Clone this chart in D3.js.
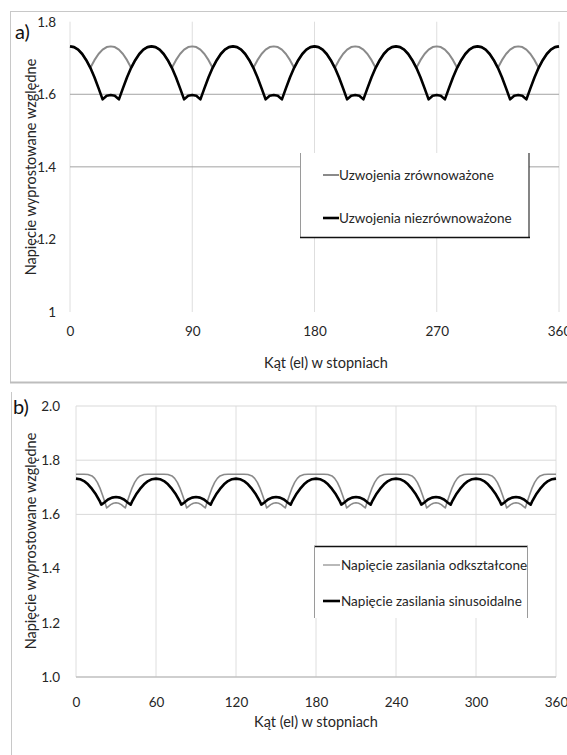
<!DOCTYPE html>
<html>
<head>
<meta charset="utf-8">
<script src="https://cdn.jsdelivr.net/npm/d3@7/dist/d3.min.js"></script>
<style>
  html, body { margin: 0; padding: 0; background: #fff; }
  text { font-family: Lato, "Open Sans", sans-serif; }
</style>
</head>
<body>
<script>
// ---------- DATA : chart a) ----------
const topAngles = [0,3,6,9,12,15,18,21,24,27,30,33,36,39,42,45,48,51,54,57,60,63,66,69,72,75,78,81,84,87,90,93,96,99,102,105,108,111,114,117,120,123,126,129,132,135,138,141,144,147,150,153,156,159,162,165,168,171,174,177,180,183,186,189,192,195,198,201,204,207,210,213,216,219,222,225,228,231,234,237,240,243,246,249,252,255,258,261,264,267,270,273,276,279,282,285,288,291,294,297,300,303,306,309,312,315,318,321,324,327,330,333,336,339,342,345,348,351,354,357,360];
const topBalanced = [
1.732,1.730,1.723,1.711,1.694,1.673,1.694,1.711,1.723,1.730,
1.732,1.730,1.723,1.711,1.694,1.673,1.694,1.711,1.723,1.730,
1.732,1.730,1.723,1.711,1.694,1.673,1.694,1.711,1.723,1.730,
1.732,1.730,1.723,1.711,1.694,1.673,1.694,1.711,1.723,1.730,
1.732,1.730,1.723,1.711,1.694,1.673,1.694,1.711,1.723,1.730,
1.732,1.730,1.723,1.711,1.694,1.673,1.694,1.711,1.723,1.730,
1.732,1.730,1.723,1.711,1.694,1.673,1.694,1.711,1.723,1.730,
1.732,1.730,1.723,1.711,1.694,1.673,1.694,1.711,1.723,1.730,
1.732,1.730,1.723,1.711,1.694,1.673,1.694,1.711,1.723,1.730,
1.732,1.730,1.723,1.711,1.694,1.673,1.694,1.711,1.723,1.730,
1.732,1.730,1.723,1.711,1.694,1.673,1.694,1.711,1.723,1.730,
1.732,1.730,1.723,1.711,1.694,1.673,1.694,1.711,1.723,1.730,
1.732];
const topUnbalanced = [
1.732,1.730,1.723,1.711,1.694,1.673,1.647,1.617,1.586,1.596,1.598,1.596,1.586,1.617,1.647,1.673,1.694,1.711,1.723,1.730,
1.732,1.730,1.723,1.711,1.694,1.673,1.647,1.617,1.586,1.596,1.598,1.596,1.586,1.617,1.647,1.673,1.694,1.711,1.723,1.730,
1.732,1.730,1.723,1.711,1.694,1.673,1.647,1.617,1.586,1.596,1.598,1.596,1.586,1.617,1.647,1.673,1.694,1.711,1.723,1.730,
1.732,1.730,1.723,1.711,1.694,1.673,1.647,1.617,1.586,1.596,1.598,1.596,1.586,1.617,1.647,1.673,1.694,1.711,1.723,1.730,
1.732,1.730,1.723,1.711,1.694,1.673,1.647,1.617,1.586,1.596,1.598,1.596,1.586,1.617,1.647,1.673,1.694,1.711,1.723,1.730,
1.732,1.730,1.723,1.711,1.694,1.673,1.647,1.617,1.586,1.596,1.598,1.596,1.586,1.617,1.647,1.673,1.694,1.711,1.723,1.730,
1.732];
const topXTicks = [0,90,180,270,360];
const topYTicks = [1,1.2,1.4,1.6,1.8];
const topYTickLabels = ["1","1.2","1.4","1.6","1.8"];
const topGridValues = [1.4,1.6];
const topSeriesNames = ["Uzwojenia zrównoważone","Uzwojenia niezrównoważone"];

// ---------- DATA : chart b) ----------
const bottomGrayAngles = [
0,3,6,9,12,14,16,18,20,22,23,24,26,28,30,32,34,36,37,38,40,42,44,46,48,51,54,57,
60,63,66,69,72,74,76,78,80,82,83,84,86,88,90,92,94,96,97,98,100,102,104,106,108,111,114,117,
120,123,126,129,132,134,136,138,140,142,143,144,146,148,150,152,154,156,157,158,160,162,164,166,168,171,174,177,
180,183,186,189,192,194,196,198,200,202,203,204,206,208,210,212,214,216,217,218,220,222,224,226,228,231,234,237,
240,243,246,249,252,254,256,258,260,262,263,264,266,268,270,272,274,276,277,278,280,282,284,286,288,291,294,297,
300,303,306,309,312,314,316,318,320,322,323,324,326,328,330,332,334,336,337,338,340,342,344,346,348,351,354,357,
360];
const bottomGrayValues = [
1.748,1.748,1.748,1.747,1.742,1.733,1.718,1.697,1.670,1.640,1.624,1.628,1.636,1.641,1.643,1.641,1.636,1.628,1.624,1.640,1.670,1.697,1.718,1.733,1.742,1.747,1.748,1.748,
1.748,1.748,1.748,1.747,1.742,1.733,1.718,1.697,1.670,1.640,1.624,1.628,1.636,1.641,1.643,1.641,1.636,1.628,1.624,1.640,1.670,1.697,1.718,1.733,1.742,1.747,1.748,1.748,
1.748,1.748,1.748,1.747,1.742,1.733,1.718,1.697,1.670,1.640,1.624,1.628,1.636,1.641,1.643,1.641,1.636,1.628,1.624,1.640,1.670,1.697,1.718,1.733,1.742,1.747,1.748,1.748,
1.748,1.748,1.748,1.747,1.742,1.733,1.718,1.697,1.670,1.640,1.624,1.628,1.636,1.641,1.643,1.641,1.636,1.628,1.624,1.640,1.670,1.697,1.718,1.733,1.742,1.747,1.748,1.748,
1.748,1.748,1.748,1.747,1.742,1.733,1.718,1.697,1.670,1.640,1.624,1.628,1.636,1.641,1.643,1.641,1.636,1.628,1.624,1.640,1.670,1.697,1.718,1.733,1.742,1.747,1.748,1.748,
1.748,1.748,1.748,1.747,1.742,1.733,1.718,1.697,1.670,1.640,1.624,1.628,1.636,1.641,1.643,1.641,1.636,1.628,1.624,1.640,1.670,1.697,1.718,1.733,1.742,1.747,1.748,1.748,
1.748];
const bottomBlackAngles = [
0,3,6,9,12,15,18,19,21,24,27,30,33,36,39,41,42,45,48,51,54,57,
60,63,66,69,72,75,78,79,81,84,87,90,93,96,99,101,102,105,108,111,114,117,
120,123,126,129,132,135,138,139,141,144,147,150,153,156,159,161,162,165,168,171,174,177,
180,183,186,189,192,195,198,199,201,204,207,210,213,216,219,221,222,225,228,231,234,237,
240,243,246,249,252,255,258,259,261,264,267,270,273,276,279,281,282,285,288,291,294,297,
300,303,306,309,312,315,318,319,321,324,327,330,333,336,339,341,342,345,348,351,354,357,
360];
const bottomBlackValues = [
1.732,1.730,1.723,1.711,1.694,1.673,1.647,1.636,1.643,1.655,1.662,1.664,1.662,1.655,1.643,1.636,1.647,1.673,1.694,1.711,1.723,1.730,
1.732,1.730,1.723,1.711,1.694,1.673,1.647,1.636,1.643,1.655,1.662,1.664,1.662,1.655,1.643,1.636,1.647,1.673,1.694,1.711,1.723,1.730,
1.732,1.730,1.723,1.711,1.694,1.673,1.647,1.636,1.643,1.655,1.662,1.664,1.662,1.655,1.643,1.636,1.647,1.673,1.694,1.711,1.723,1.730,
1.732,1.730,1.723,1.711,1.694,1.673,1.647,1.636,1.643,1.655,1.662,1.664,1.662,1.655,1.643,1.636,1.647,1.673,1.694,1.711,1.723,1.730,
1.732,1.730,1.723,1.711,1.694,1.673,1.647,1.636,1.643,1.655,1.662,1.664,1.662,1.655,1.643,1.636,1.647,1.673,1.694,1.711,1.723,1.730,
1.732,1.730,1.723,1.711,1.694,1.673,1.647,1.636,1.643,1.655,1.662,1.664,1.662,1.655,1.643,1.636,1.647,1.673,1.694,1.711,1.723,1.730,
1.732];
const bottomXTicks = [0,60,120,180,240,300,360];
const bottomYTicks = [1,1.2,1.4,1.6,1.8,2];
const bottomYTickLabels = ["1.0","1.2","1.4","1.6","1.8","2.0"];
const bottomGridValues = [1.6,1.8,2];
const bottomSeriesNames = ["Napięcie zasilania odkształcone","Napięcie zasilania sinusoidalne"];

const yTitle = "Napięcie wyprostowane względne";
const xTitle = "Kąt (el) w stopniach";

// ---------- DRAW ----------
const svg = d3.select("body").append("svg")
  .attr("width", 567).attr("height", 755)
  .style("display", "block");

const TXT = "#262626";
const FS = "13.5px";

function hline(g, x1, x2, y, color, w) {
  g.append("line").attr("x1", x1).attr("x2", x2).attr("y1", y).attr("y2", y)
    .attr("stroke", color).attr("stroke-width", w);
}
function vline(g, x, y1, y2, color, w) {
  g.append("line").attr("x1", x).attr("x2", x).attr("y1", y1).attr("y2", y2)
    .attr("stroke", color).attr("stroke-width", w);
}
function styleAxis(g) {
  g.select(".domain").remove();
  g.selectAll(".tick line").remove();
  g.selectAll("text").attr("font-family", "Lato, sans-serif")
    .attr("font-size", FS).attr("fill", TXT);
}

// ===== chart a) =====
const gA = svg.append("g");
const xA = d3.scaleLinear().domain([0, 360]).range([70, 559]);
const yA = d3.scaleLinear().domain([1, 1.8]).range([312, 21.7]);

// outer frame
hline(gA, 10, 567, 11.5, "#c8c8c8", 1);
vline(gA, 10.5, 11, 383, "#c8c8c8", 1);
hline(gA, 10, 567, 382.5, "#bdbdbd", 2);

topXTicks.forEach(v => vline(gA, xA(v), yA(1.8), yA(1), "#dedede", 1));
topGridValues.forEach(v => hline(gA, xA(0), xA(360), yA(v), "#a3a3a3", 1));

gA.append("g").attr("transform", `translate(${xA(0)},0)`)
  .call(d3.axisLeft(yA).tickValues(topYTicks).tickFormat((d, i) => topYTickLabels[i]).tickSize(0).tickPadding(14))
  .call(styleAxis);
gA.append("g").attr("transform", `translate(0,${yA(1)})`)
  .call(d3.axisBottom(xA).tickValues(topXTicks).tickFormat(d3.format("d")).tickSize(0).tickPadding(14))
  .call(styleAxis);

const lineA1 = d3.line().x((d, i) => xA(topAngles[i])).y(d => yA(d));
gA.append("path").datum(topBalanced).attr("d", lineA1)
  .attr("fill", "none").attr("stroke", "#8a8a8a").attr("stroke-width", 2).attr("stroke-linejoin", "round");
gA.append("path").datum(topUnbalanced).attr("d", lineA1)
  .attr("fill", "none").attr("stroke", "#000").attr("stroke-width", 2.6).attr("stroke-linejoin", "round");

gA.append("text").attr("transform", "translate(31,167) rotate(-90)")
  .attr("text-anchor", "middle").attr("dy", "0.35em")
  .attr("font-size", "14.5px").attr("fill", TXT).text(yTitle);
gA.append("text").attr("x", 326).attr("y", 363).attr("text-anchor", "middle").attr("dy", "0.35em")
  .attr("font-size", "14.5px").attr("fill", TXT).text(xTitle);
gA.append("text").attr("x", 15).attr("y", 39)
  .attr("font-family", "'Liberation Serif', 'DejaVu Serif', serif").attr("font-size", "20px")
  .attr("fill", "#111").text("a)");

// legend a)
const lgA = gA.append("g");
lgA.append("rect").attr("x", 300).attr("y", 153).attr("width", 229).attr("height", 84).attr("fill", "#fff");
vline(lgA, 300.5, 153, 237, "#9a9a9a", 1);
vline(lgA, 529, 153, 238, "#333", 1.2);
hline(lgA, 300, 530, 237.5, "#111", 1.5);
const legA = [{ c: "#8a8a8a", w: 2, y: 175 }, { c: "#000", w: 2.6, y: 218 }];
legA.forEach((e, i) => {
  hline(lgA, 323, 339, e.y, e.c, e.w);
  lgA.append("text").attr("x", 339).attr("y", e.y).attr("dy", "0.35em")
    .attr("font-size", FS).attr("fill", TXT).text(topSeriesNames[i]);
});

// ===== chart b) =====
const gB = svg.append("g");
const xB = d3.scaleLinear().domain([0, 360]).range([76, 556]);
const yB = d3.scaleLinear().domain([1, 2]).range([677, 406]);

vline(gB, 11.5, 392, 755, "#c8c8c8", 1);

bottomXTicks.forEach(v => vline(gB, xB(v), yB(2), yB(1), "#dedede", 1));
bottomGridValues.forEach(v => hline(gB, xB(0), xB(360), yB(v), "#d9d9d9", 1));
hline(gB, xB(0), xB(360), yB(1), "#bfbfbf", 1.5);

gB.append("g").attr("transform", `translate(${xB(0)},0)`)
  .call(d3.axisLeft(yB).tickValues(bottomYTicks).tickFormat((d, i) => bottomYTickLabels[i]).tickSize(0).tickPadding(16))
  .call(styleAxis);
gB.append("g").attr("transform", `translate(0,${yB(1)})`)
  .call(d3.axisBottom(xB).tickValues(bottomXTicks).tickFormat(d3.format("d")).tickSize(0).tickPadding(20))
  .call(styleAxis);

const lineBg = d3.line().x((d, i) => xB(bottomGrayAngles[i])).y(d => yB(d));
const lineBb = d3.line().x((d, i) => xB(bottomBlackAngles[i])).y(d => yB(d));
gB.append("path").datum(bottomGrayValues).attr("d", lineBg)
  .attr("fill", "none").attr("stroke", "#8a8a8a").attr("stroke-width", 1.6).attr("stroke-linejoin", "round");
gB.append("path").datum(bottomBlackValues).attr("d", lineBb)
  .attr("fill", "none").attr("stroke", "#000").attr("stroke-width", 2.6).attr("stroke-linejoin", "round");

gB.append("text").attr("transform", "translate(31,541) rotate(-90)")
  .attr("text-anchor", "middle").attr("dy", "0.35em")
  .attr("font-size", "14.5px").attr("fill", TXT).text(yTitle);
gB.append("text").attr("x", 316).attr("y", 722).attr("text-anchor", "middle").attr("dy", "0.35em")
  .attr("font-size", "14.5px").attr("fill", TXT).text(xTitle);
gB.append("text").attr("x", 13).attr("y", 414)
  .attr("font-family", "'Liberation Serif', 'DejaVu Serif', serif").attr("font-size", "20px")
  .attr("fill", "#111").text("b)");

// legend b)
const lgB = gB.append("g");
lgB.append("rect").attr("x", 314).attr("y", 546).attr("width", 213).attr("height", 72).attr("fill", "#fff");
hline(lgB, 314, 528, 546.5, "#111", 1.5);
vline(lgB, 314.5, 546, 618, "#9a9a9a", 1);
vline(lgB, 527.5, 546, 618, "#9a9a9a", 1);
const legB = [{ c: "#8a8a8a", w: 1.2, y: 565 }, { c: "#000", w: 2.6, y: 601 }];
legB.forEach((e, i) => {
  hline(lgB, 323, 340, e.y, e.c, e.w);
  lgB.append("text").attr("x", 341).attr("y", e.y).attr("dy", "0.35em")
    .attr("font-size", FS).attr("fill", TXT).text(bottomSeriesNames[i]);
});
</script>
</body>
</html>
